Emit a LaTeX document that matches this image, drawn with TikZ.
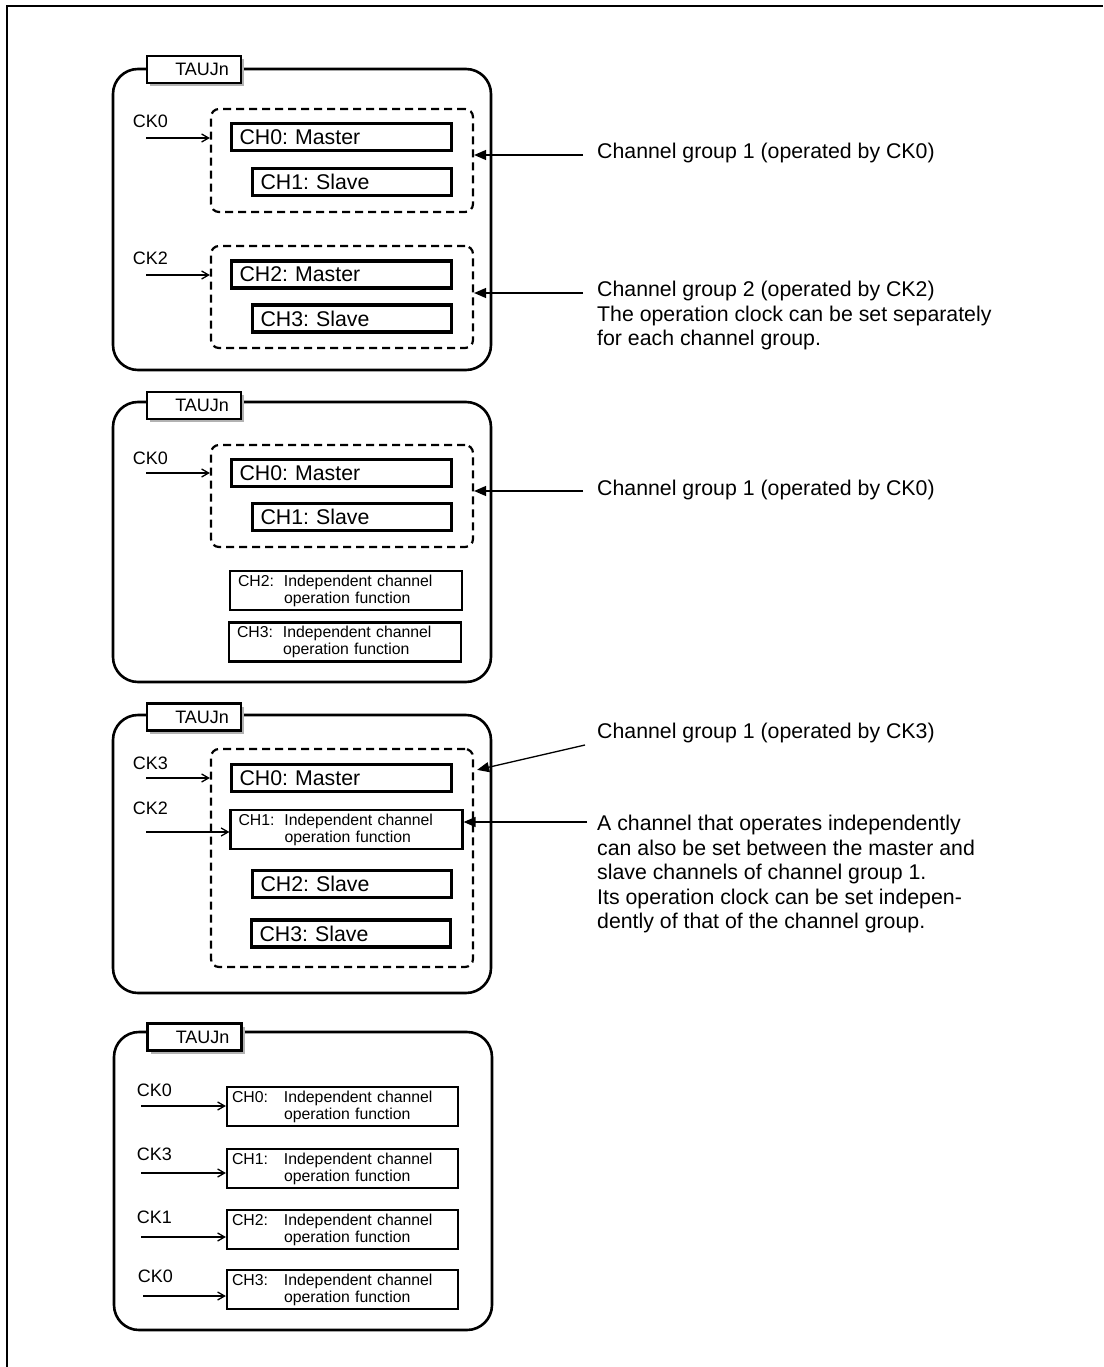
\documentclass[tikz,border=0pt]{standalone}
\usepackage{fontspec}
\setmainfont{Liberation Sans}
\usetikzlibrary{arrows.meta,shadows}

\newcommand{\indep}[2]{\makebox[#2][l]{#1}Independent channel\\\hspace*{#2}operation function}

\tikzset{
  panel/.style={line width=2.6pt, rounded corners=25pt},
  taubox/.style={draw, line width=2.2pt, fill=white, minimum height=27pt, text width=70pt,
    inner xsep=12pt, align=right, font=\fontsize{18}{20}\selectfont,
    general shadow={fill=gray!60, shadow xshift=3pt, shadow yshift=-3pt}},
  group/.style={draw, line width=2.2pt, dash pattern=on 8pt off 5pt, rounded corners=8pt, minimum width=262pt},
  chbox/.style={draw, line width=3.6pt, minimum height=27pt, inner xsep=8pt, align=left,
    font=\fontsize{21.3}{24}\selectfont},
  master/.style={chbox, text width=204pt},
  slave/.style={chbox, text width=183pt},
  indbox/.style={draw, line width=2.2pt, minimum height=39pt, text width=216pt, inner xsep=8pt,
    align=left, font=\fontsize{15.8}{17}\selectfont},
  indwide/.style={text width=221pt, inner xsep=5pt},
  cklabel/.style={font=\fontsize{18}{20}\selectfont, inner sep=0pt},
  ckarrow/.style={line width=1.3pt, -{Straight Barb[length=7pt,width=8pt]}},
  annot/.style={font=\fontsize{21.3}{24.5}\selectfont, inner sep=0pt, align=left},
  annarrow/.style={line width=1.3pt, -{Triangle[length=12pt,width=10pt]}},
}

\begin{document}
\frenchspacing
\begin{tikzpicture}[x=1pt, y=-1pt]
    \useasboundingbox (0,0) rectangle (1103,1367);

    % Kader
    \draw[line width=2.8pt] (7,1367) -- (7,6) -- (1103,6);

    % Blok 1: twee kanaalgroepen
    \draw[panel] (113,69) rectangle (491,370);
    \node[taubox] (tau1) at (194,69.5) {TAUJn};
    \node[group, minimum height=103pt] (g1a) at (342,160.5) {};
    \node[master] (c10) at (341.5,137) {CH0: Master};
    \node[slave] (c11) at (352,182) {CH1: Slave};
    \node[cklabel] (k10) at (150.5,121) {CK0};
    \coordinate (s10) at (146,138);
    \draw[ckarrow] (s10) -- (s10 -| g1a.west);
    \node[group, minimum height=102pt] (g1b) at (342,297) {};
    \node[master] (c12) at (341.5,274.5) {CH2: Master};
    \node[slave] (c13) at (352,318.5) {CH3: Slave};
    \node[cklabel] (k12) at (150.5,258) {CK2};
    \coordinate (s12) at (146,275);
    \draw[ckarrow] (s12) -- (s12 -| g1b.west);

    % Uitleg blok 1
    \node[annot, anchor=west] (n1a) at (597,153) {Channel group 1 (operated by CK0)};
    \coordinate (e1a) at (583,155);
    \draw[annarrow] (e1a) -- (e1a -| g1a.east);
    \node[annot, anchor=north west] (n1b) at (597,281) {Channel group 2 (operated by CK2)\\The operation clock can be set separately\\for each channel group.};
    \coordinate (e1b) at (583,293);
    \draw[annarrow] (e1b) -- (e1b -| g1b.east);

    % Blok 2: een groep plus losse kanalen
    \draw[panel] (113,402) rectangle (491,682);
    \node[taubox] (tau2) at (194,405.5) {TAUJn};
    \node[group, minimum height=102pt] (g2a) at (342,496) {};
    \node[master] (c20) at (341.5,473) {CH0: Master};
    \node[slave] (c21) at (352,517) {CH1: Slave};
    \node[cklabel] (k20) at (150.5,458) {CK0};
    \coordinate (s20) at (146,473);
    \draw[ckarrow] (s20) -- (s20 -| g2a.west);
    \node[indbox] (c22) at (346,590.5) {\indep{CH2:}{46pt}};
    \node[indbox] (c23) at (345,642) {\indep{CH3:}{46pt}};
    \node[annot, anchor=west] (n2a) at (597,490) {Channel group 1 (operated by CK0)};
    \coordinate (e2a) at (583,491);
    \draw[annarrow] (e2a) -- (e2a -| g2a.east);

    % Blok 3: los kanaal binnen de groep
    \draw[panel] (113,715) rectangle (491,993);
    \node[taubox] (tau3) at (194,717) {TAUJn};
    \node[group, minimum height=218pt] (g3a) at (342,858) {};
    \node[master] (c30) at (341.5,778) {CH0: Master};
    \node[indbox] (c31) at (346.5,829.5) {\indep{CH1:}{46pt}};
    \node[slave] (c32) at (352,884) {CH2: Slave};
    \node[slave] (c33) at (351,933.5) {CH3: Slave};
    \node[cklabel] (k33) at (150.5,763) {CK3};
    \coordinate (s33) at (146,778);
    \draw[ckarrow] (s33) -- (s33 -| g3a.west);
    \node[cklabel] (k32) at (150.5,808) {CK2};
    \coordinate (s32) at (146,832);
    \draw[ckarrow] (s32) -- (s32 -| c31.west);

    % Uitleg blok 3
    \node[annot, anchor=west] (n3a) at (597,733) {Channel group 1 (operated by CK3)};
    \coordinate (e3a) at (585,745);
    \coordinate (t3a) at ([xshift=3pt,yshift=-22pt]g3a.north east);
    \draw[annarrow] (e3a) -- (t3a);
    \node[annot, anchor=north west] (n3b) at (597,815) {A channel that operates independently\\can also be set between the master and\\slave channels of channel group 1.\\Its operation clock can be set indepen-\\dently of that of the channel group.};
    \coordinate (e3b) at (587,822);
    \draw[annarrow] (e3b) -- (e3b -| c31.east);

    % Blok 4: alle kanalen los
    \draw[panel] (114,1032) rectangle (492,1330);
    \node[taubox] (tau4) at (194.5,1037) {TAUJn};
    \node[indbox, indwide] (c40) at (342.5,1106.5) {\indep{CH0:}{52pt}};
    \node[indbox, indwide] (c41) at (342.5,1168.5) {\indep{CH1:}{52pt}};
    \node[indbox, indwide] (c42) at (342.5,1229.5) {\indep{CH2:}{52pt}};
    \node[indbox, indwide] (c43) at (342.5,1289.5) {\indep{CH3:}{52pt}};
    \node[cklabel] (k40) at (154.5,1090) {CK0};
    \coordinate (s40) at (141,1106);
    \draw[ckarrow] (s40) -- (s40 -| c40.west);
    \node[cklabel] (k41) at (154.5,1154) {CK3};
    \coordinate (s41) at (141,1173);
    \draw[ckarrow] (s41) -- (s41 -| c41.west);
    \node[cklabel] (k42) at (154.5,1217) {CK1};
    \coordinate (s42) at (141,1237);
    \draw[ckarrow] (s42) -- (s42 -| c42.west);
    \node[cklabel] (k43) at (155.5,1276) {CK0};
    \coordinate (s43) at (143,1296);
    \draw[ckarrow] (s43) -- (s43 -| c43.west);
\end{tikzpicture}
\end{document}
